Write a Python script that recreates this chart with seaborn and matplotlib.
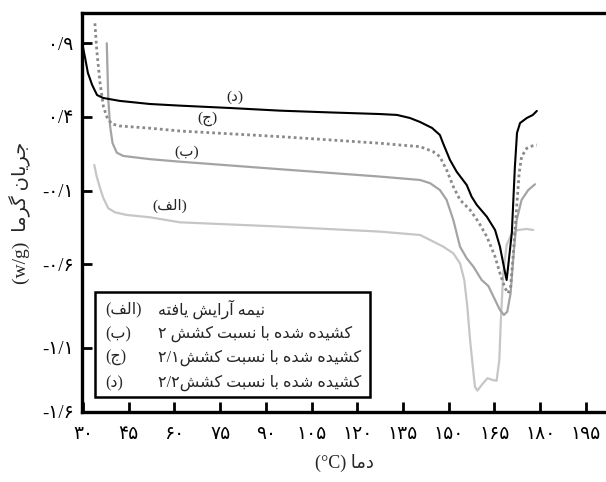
import matplotlib
matplotlib.use("Agg")
import matplotlib.pyplot as plt
from matplotlib.patches import Rectangle
import seaborn as sns
import pandas as pd

# ---------------- data ----------------
x_d = [29.7, 30.7, 31.6, 33.0, 34.6, 36.6, 42.1, 52.0, 61.8, 78.2, 94.6, 111.0, 127.4, 133.0,
       137.3, 140.6, 144.5, 147.1, 148.1, 150.4, 152.6, 155.9, 157.5, 159.2, 162.5, 165.2,
       166.8, 168.5, 169.0, 170.7, 171.7, 172.4, 173.4, 175.6, 177.6, 178.9]
y_d = [0.902, 0.80, 0.699, 0.617, 0.549, 0.529, 0.509, 0.488, 0.477, 0.461, 0.443, 0.431, 0.42, 0.414,
       0.393, 0.366, 0.326, 0.278, 0.224, 0.109, 0.029, -0.061, -0.14, -0.196, -0.276, -0.366,
       -0.479, -0.657, -0.705, -0.386, 0.061, 0.292, 0.359, 0.393, 0.414, 0.441]

x_j = [33.9, 34.5, 35.6, 36.7, 37.8, 39.4, 42.1, 52.0, 61.8, 94.6, 127.4, 134.0, 140.6, 144.9,
       147.1, 149.3, 151.5, 153.7, 157.0, 159.7, 162.5, 165.2, 166.8, 168.5, 169.5, 170.3,
       171.2, 172.3, 173.1, 173.9, 175.6, 177.7, 178.9]
y_j = [1.035, 0.855, 0.629, 0.47, 0.402, 0.353, 0.339, 0.324, 0.305, 0.267, 0.222, 0.21, 0.199, 0.165,
       0.131, 0.041, -0.072, -0.162, -0.23, -0.31, -0.411, -0.547, -0.659, -0.761, -0.795, -0.75,
       -0.524, -0.208, 0.019, 0.131, 0.188, 0.206, 0.21]

x_b = [37.8, 38.0, 38.3, 38.9, 39.7, 41.1, 43.2, 52.0, 61.8, 94.6, 127.4, 140.6, 143.9, 147.1,
       149.3, 151.5, 153.7, 155.9, 158.1, 160.8, 163.0, 165.2, 166.8, 168.1, 169.2, 170.3,
       171.4, 172.3, 173.9, 176.1, 178.3]
y_b = [0.9, 0.741, 0.516, 0.335, 0.222, 0.158, 0.136, 0.114, 0.097, 0.046, -0.004, -0.027, -0.049, -0.095,
       -0.162, -0.298, -0.479, -0.558, -0.615, -0.705, -0.746, -0.84, -0.908, -0.942, -0.92, -0.795,
       -0.501, -0.298, -0.162, -0.095, -0.056]

x_a = [33.7, 34.5, 35.6, 36.7, 38.3, 40.5, 44.3, 52.0, 61.8, 94.6, 127.4, 140.6, 143.9, 148.2,
       151.5, 153.7, 155.1, 156.1, 157.0, 157.9, 158.6, 159.4, 160.8, 162.7, 164.4, 165.7,
       166.6, 167.1, 167.9, 169.0, 170.7, 172.8, 175.6, 177.7]
y_a = [0.075, -0.004, -0.083, -0.151, -0.219, -0.246, -0.264, -0.28, -0.314, -0.343, -0.377, -0.4, -0.434, -0.479,
       -0.524, -0.592, -0.705, -0.886, -1.112, -1.293, -1.428, -1.455, -1.417, -1.371, -1.383, -1.388,
       -1.247, -0.976, -0.659, -0.467, -0.388, -0.366, -0.359, -0.366]

x_ticks = [30, 45, 60, 75, 90, 105, 120, 135, 150, 165, 180, 195]
x_tick_labels = ["۳۰", "۴۵", "۶۰", "۷۵", "۹۰", "۱۰۵", "۱۲۰", "۱۳۵", "۱۵۰", "۱۶۵", "۱۸۰", "۱۹۵"]
y_ticks = [0.9, 0.4, -0.1, -0.6, -1.166, -1.6]
y_tick_labels = ["۰/۹", "۰/۴", "-۰/۱", "-۰/۶", "-۱/۱", "-۱/۶"]

series_letters = ["الف", "ب", "ج", "د"]
series_desc = ["نیمه آرایش یافته", "کشیده شده با نسبت کشش", "کشیده شده با نسبت کشش", "کشیده شده با نسبت کشش"]
series_ratio = ["", "۲ ", "۲/۱", "۲/۲"]
xlabel_fa = "دما"
ylabel_fa = "جریان گرما"

# ---------------- minimal Persian shaping (presentation forms) ----------------
FORMS = {
    '\u0627': ('\uFE8D', '\uFE8E', None, None),
    '\u0622': ('\uFE81', '\uFE82', None, None),
    '\u0628': ('\uFE8F', '\uFE90', '\uFE91', '\uFE92'),
    '\u062A': ('\uFE95', '\uFE96', '\uFE97', '\uFE98'),
    '\u062C': ('\uFE9D', '\uFE9E', '\uFE9F', '\uFEA0'),
    '\u062F': ('\uFEA9', '\uFEAA', None, None),
    '\u0631': ('\uFEAD', '\uFEAE', None, None),
    '\u0633': ('\uFEB1', '\uFEB2', '\uFEB3', '\uFEB4'),
    '\u0634': ('\uFEB5', '\uFEB6', '\uFEB7', '\uFEB8'),
    '\u0641': ('\uFED1', '\uFED2', '\uFED3', '\uFED4'),
    '\u0644': ('\uFEDD', '\uFEDE', '\uFEDF', '\uFEE0'),
    '\u0645': ('\uFEE1', '\uFEE2', '\uFEE3', '\uFEE4'),
    '\u0646': ('\uFEE5', '\uFEE6', '\uFEE7', '\uFEE8'),
    '\u0647': ('\uFEE9', '\uFEEA', '\uFEEB', '\uFEEC'),
    '\u06CC': ('\uFBFC', '\uFBFD', '\uFBFE', '\uFBFF'),
    '\u06A9': ('\uFB8E', '\uFB8F', '\uFB90', '\uFB91'),
    '\u06AF': ('\uFB92', '\uFB93', '\uFB94', '\uFB95'),
}


def shape(word):
    out = []
    n = len(word)
    for i, ch in enumerate(word):
        if ch not in FORMS:
            out.append(ch)
            continue
        iso, fin, ini, med = FORMS[ch]
        prev = word[i - 1] if i > 0 else ''
        nxt = word[i + 1] if i < n - 1 else ''
        jp = prev in FORMS and FORMS[prev][2] is not None
        jn = nxt in FORMS and ini is not None
        if jp and jn:
            out.append(med)
        elif jp:
            out.append(fin)
        elif jn:
            out.append(ini)
        else:
            out.append(iso)
    return ''.join(out)


def fa(s):
    return shape(s)[::-1]


# ---------------- plot ----------------
sns.set_style("ticks")
plt.rcParams['font.family'] = ['Liberation Serif', 'DejaVu Sans']

fig = plt.figure(figsize=(6.06, 4.82), dpi=100)
ax = fig.add_axes([82 / 606, 70 / 482, 524 / 606, 399 / 482])

df_a = pd.DataFrame({"x": x_a, "y": y_a})
df_b = pd.DataFrame({"x": x_b, "y": y_b})
df_j = pd.DataFrame({"x": x_j, "y": y_j})
df_d = pd.DataFrame({"x": x_d, "y": y_d})

sns.lineplot(data=df_a, x="x", y="y", ax=ax, sort=False, estimator=None, color="#c6c6c6", lw=1.6)
sns.lineplot(data=df_b, x="x", y="y", ax=ax, sort=False, estimator=None, color="#a4a4a4", lw=1.6)
sns.lineplot(data=df_j, x="x", y="y", ax=ax, sort=False, estimator=None, color="#8a8a8a", lw=2.0,
             dashes=False)
ax.lines[-1].set_linestyle((0, (1.0, 1.1)))
sns.lineplot(data=df_d, x="x", y="y", ax=ax, sort=False, estimator=None, color="#000000", lw=1.5)

ax.set_xlim(29.67, 201.6)
ax.set_ylim(-1.6, 1.105)
ax.set_xticks(x_ticks)
ax.set_xticklabels(x_tick_labels)
ax.set_yticks(y_ticks)
ax.set_yticklabels(y_tick_labels)

for s in ["left", "top", "bottom"]:
    ax.spines[s].set_linewidth(2.4)
    ax.spines[s].set_color("black")
ax.spines["right"].set_visible(False)
ax.tick_params(axis="both", direction="in", length=7, width=2.0, colors="black", labelsize=13.5)
ax.tick_params(axis="x", pad=10)
ax.tick_params(axis="y", pad=6)

ax.set_xlabel("(°C) " + fa(xlabel_fa), fontsize=13, labelpad=8)
ax.set_ylabel("(w/g)  " + fa(ylabel_fa), fontsize=14, labelpad=8)

# curve labels
curve_label_pos = [(0.168, 0.516), (0.200, 0.652), (0.2385, 0.734), (0.292, 0.789)]
for (px, py), let in zip(curve_label_pos, series_letters):
    ax.text(px, py, "(" + fa(let) + ")", transform=ax.transAxes, fontsize=11,
            ha="center", va="center")

# legend box
ax.add_patch(Rectangle((0.0248, 0.0376), 0.5248, 0.2632, transform=ax.transAxes,
                       fill=False, edgecolor="black", lw=1.8, clip_on=False, zorder=5))
row_y = [0.258, 0.1955, 0.135, 0.0727]
for ry, let, desc, ratio in zip(row_y, series_letters, series_desc, series_ratio):
    ax.text(0.044, ry, "(" + fa(let) + ")", transform=ax.transAxes, fontsize=11.5,
            ha="left", va="center")
    ax.text(0.145, ry, ratio + fa(desc), transform=ax.transAxes, fontsize=11.5,
            ha="left", va="center")

fig.savefig("out.png", dpi=100)
